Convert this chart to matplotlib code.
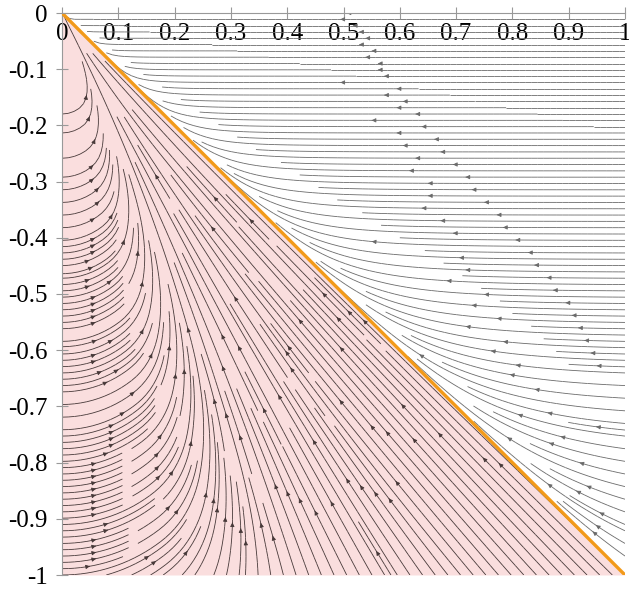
import numpy as np
import matplotlib
matplotlib.use("Agg")
import matplotlib.pyplot as plt
from matplotlib.colors import ListedColormap

# ----------------------------
# DATA
# ----------------------------
X_TICKS = [0, 0.1, 0.2, 0.3, 0.4, 0.5, 0.6, 0.7, 0.8, 0.9, 1]
X_LABELS = ["0", "0.1", "0.2", "0.3", "0.4", "0.5", "0.6", "0.7", "0.8", "0.9", "1"]
Y_TICKS = [0, -0.1, -0.2, -0.3, -0.4, -0.5, -0.6, -0.7, -0.8, -0.9, -1]
Y_LABELS = ["0", "-0.1", "-0.2", "-0.3", "-0.4", "-0.5", "-0.6", "-0.7", "-0.8", "-0.9", "-1"]

# boundary line y = -x
LINE_X = [0, 1]
LINE_Y = [0, -1]

# flow direction (degrees) in the shaded region, as a function of x/(-y)
R_NODES = [0.0, 0.09, 0.19, 0.3, 0.4, 0.5, 0.7, 1.0]
THETA_NODES = [0, 18, 38, 80, 106, 116, 129, 136]
# flow in the white region: horizontal far away, parallel to y=-x at the boundary
WHITE_POWER = 7

# line colours: shaded region, white region
LINE_COLORS = ["#463838", "#6a6a6a"]

plt.rcParams["font.family"] = ["Liberation Serif", "DejaVu Serif"]

# ----------------------------
# FIELD
# ----------------------------
gx = np.linspace(0, 1, 301)
gy = np.linspace(-1, 0, 301)
X, Y = np.meshgrid(gx, gy)
eps = 1e-9

white = X + Y > 0
s = np.clip(-Y / np.maximum(X, eps), 0, 1)
theta_white = np.pi - (np.pi / 4) * s ** WHITE_POWER
r = np.clip(X / np.maximum(-Y, eps), 0, 1)
theta_pink = np.deg2rad(np.interp(r, R_NODES, THETA_NODES))
theta = np.where(white, theta_white, theta_pink)
U = np.cos(theta)
V = np.sin(theta)
shade = white.astype(float)

# ----------------------------
# PLOT
# ----------------------------
fig = plt.figure(figsize=(6.29, 5.93), dpi=100)
ax = fig.add_axes([62 / 629, 18 / 593, 563 / 629, 562 / 593])

ax.fill_between(LINE_X, LINE_Y, -1, color="#fadede", lw=0, zorder=0)

ax.streamplot(gx, gy, U, V, density=3.0, color=shade,
              cmap=ListedColormap(LINE_COLORS), norm=plt.Normalize(0, 1),
              linewidth=0.6, arrowsize=0.6, zorder=2)

ax.plot(LINE_X, LINE_Y, color="#f29a1a", lw=2.4, zorder=4)

ax.set_xlim(0, 1)
ax.set_ylim(-1, 0)

ax.spines["top"].set_visible(False)
ax.spines["right"].set_visible(False)
ax.spines["bottom"].set_position(("data", 0))
ax.spines["bottom"].set_color("#999999")
ax.spines["left"].set_color("#999999")
ax.spines["bottom"].set_zorder(5)

ax.set_xticks(X_TICKS)
ax.set_xticklabels(X_LABELS)
ax.set_yticks(Y_TICKS)
ax.set_yticklabels(Y_LABELS)
ax.tick_params(axis="both", direction="inout", length=9, width=0.8,
               color="#999999", labelsize=18)
ax.tick_params(axis="x", pad=3)
ax.tick_params(axis="y", pad=6)

fig.savefig("out.png", dpi=100)
